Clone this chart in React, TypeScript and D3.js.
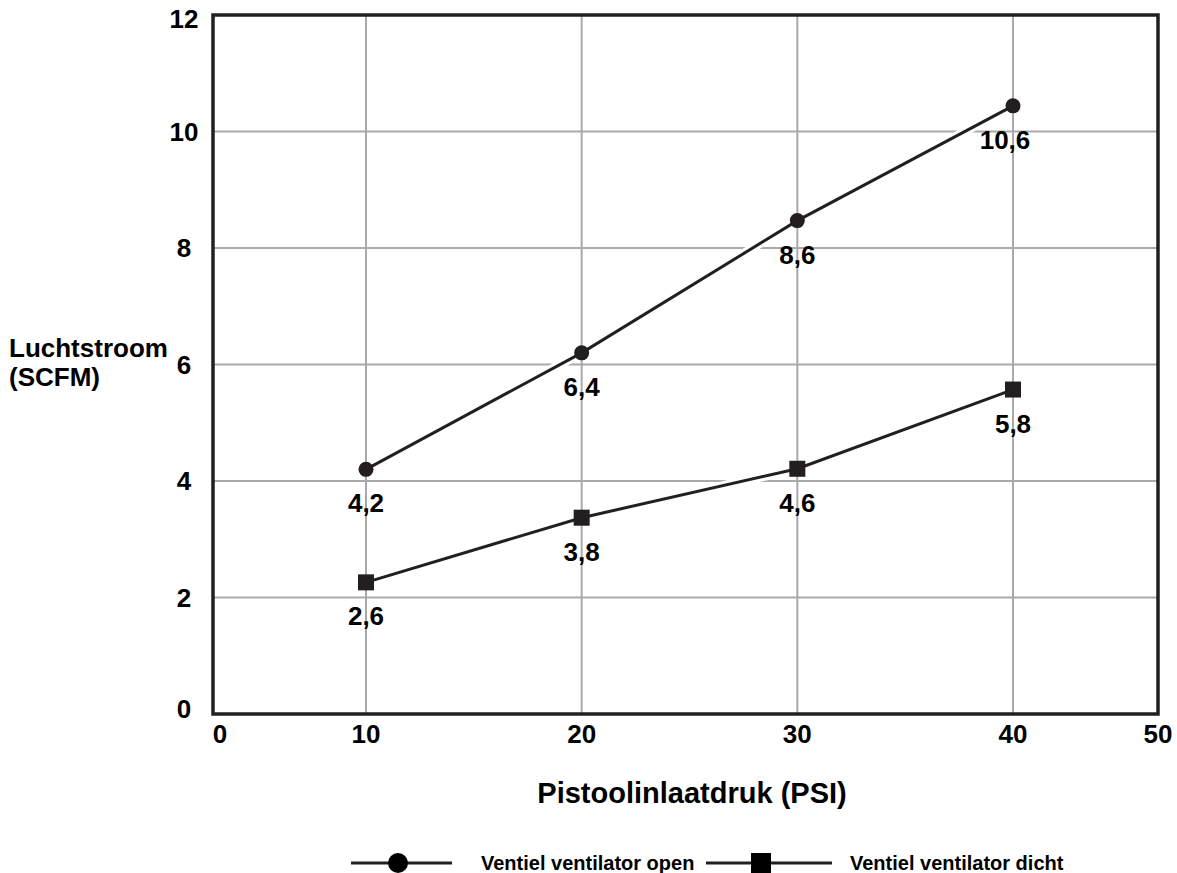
import React from "react";
import * as d3 from "d3";

const pressures = [10, 20, 30, 40];
const openValues = [4.2, 6.2, 8.47, 10.44];
const openLabels = ["4,2", "6,4", "8,6", "10,6"];
const closedValues = [2.26, 3.37, 4.21, 5.57];
const closedLabels = ["2,6", "3,8", "4,6", "5,8"];
const xTicks = [0, 10, 20, 30, 40, 50];
const yTicks = [0, 2, 4, 6, 8, 10, 12];
const xTitle = "Pistoolinlaatdruk (PSI)";
const yTitle = ["Luchtstroom", "(SCFM)"];
const legendLabels = ["Ventiel ventilator open", "Ventiel ventilator dicht"];

const W = 1177;
const H = 873;
const left = 213, right = 1158, top = 15, bottom = 714;
const DARK = "#231f20";
const GRID = "#a7a9ac";
const FONT = "'Liberation Sans', Arial, Helvetica, sans-serif";

export default function App() {
  const x = d3.scaleLinear().domain([0, 10, 40, 50]).range([left, 366, 1013, right]);
  const y = d3.scaleLinear().domain([0, 12]).range([bottom, top]);
  const line = d3.line<number>().x((_, i) => x(pressures[i])).y((d) => y(d));

  const openPts = openValues.map((v, i) => ({ x: x(pressures[i]), y: y(v), label: openLabels[i] }));
  const closedPts = closedValues.map((v, i) => ({ x: x(pressures[i]), y: y(v), label: closedLabels[i] }));

  const yLabelBase = (t: number) => (t === 12 ? y(t) + 13 : t === 0 ? y(t) + 4 : y(t) + 9);

  return (
    <svg width={W} height={H} style={{ position: "absolute", left: 0, top: 0, background: "#fff" }} fontFamily={FONT}>
      {/* grid */}
      {pressures.map((p) => (
        <line key={"gx" + p} x1={x(p)} x2={x(p)} y1={top} y2={bottom} stroke={GRID} strokeWidth={2} />
      ))}
      {yTicks.filter((t) => t > 0 && t < 12).map((t) => (
        <line key={"gy" + t} x1={left} x2={right} y1={y(t)} y2={y(t)} stroke={GRID} strokeWidth={2} />
      ))}
      {/* lines with white halo */}
      {[openValues, closedValues].map((vals, k) => (
        <g key={"l" + k}>
          <path d={line(vals) || ""} fill="none" stroke="#fff" strokeWidth={9} />
          <path d={line(vals) || ""} fill="none" stroke={DARK} strokeWidth={3} />
        </g>
      ))}
      {openPts.map((p, i) => (
        <circle key={"c" + i} cx={p.x} cy={p.y} r={7.5} fill={DARK} />
      ))}
      {closedPts.map((p, i) => (
        <rect key={"s" + i} x={p.x - 8} y={p.y - 8} width={16} height={16} fill={DARK} />
      ))}
      {[...openPts, ...closedPts].map((p, i) => (
        <text key={"t" + i} x={p.x - (p.label.length > 3 ? 8 : 0)} y={p.y + 43} textAnchor="middle" fontSize={26} fontWeight="bold" fill="#000">
          {p.label}
        </text>
      ))}
      {/* frame */}
      <rect x={left} y={top} width={right - left} height={bottom - top} fill="none" stroke={DARK} strokeWidth={3.5} />
      {/* y ticks */}
      {yTicks.map((t) => (
        <text key={"yt" + t} x={184} y={yLabelBase(t)} textAnchor="middle" fontSize={26} fontWeight="bold" fill="#000">
          {t}
        </text>
      ))}
      {/* x ticks */}
      {xTicks.map((t) => (
        <text key={"xt" + t} x={x(t) + (t === 0 ? 7 : 0)} y={743} textAnchor="middle" fontSize={26} fontWeight="bold" fill="#000">
          {t}
        </text>
      ))}
      <text x={692} y={803} textAnchor="middle" fontSize={29} fontWeight="bold" fill="#000">{xTitle}</text>
      <text x={9} y={357} fontSize={26} fontWeight="bold" fill="#000">{yTitle[0]}</text>
      <text x={9} y={386} fontSize={26} fontWeight="bold" fill="#000">{yTitle[1]}</text>
      {/* legend */}
      <g>
        <line x1={351} x2={452} y1={863} y2={863} stroke={DARK} strokeWidth={3} />
        <circle cx={398} cy={863} r={10} fill="#000" />
        <text x={481} y={870} fontSize={20} fontWeight="bold" fill="#000">{legendLabels[0]}</text>
        <line x1={706} x2={832} y1={863} y2={863} stroke={DARK} strokeWidth={3} />
        <rect x={751} y={853} width={20} height={20} fill="#000" />
        <text x={850} y={870} fontSize={20} fontWeight="bold" fill="#000">{legendLabels[1]}</text>
      </g>
    </svg>
  );
}
